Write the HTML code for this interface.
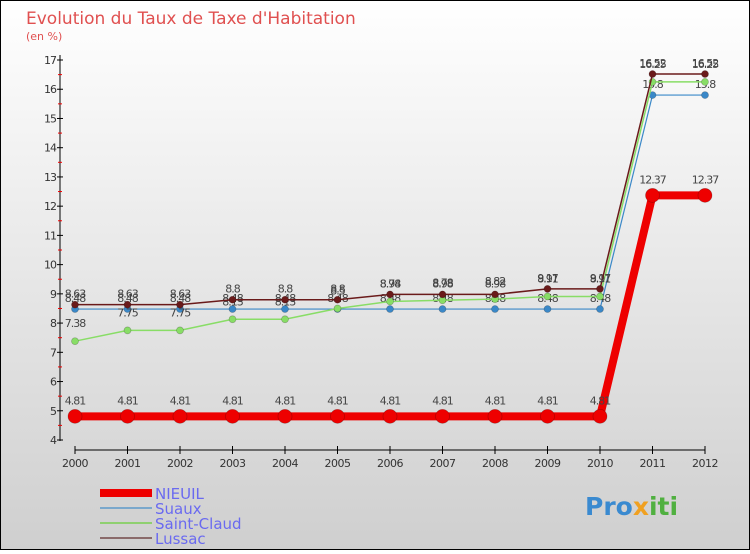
<!DOCTYPE html>
<html><head><meta charset="utf-8"><style>
body{margin:0;width:750px;height:550px;overflow:hidden;font-family:"DejaVu Sans","Liberation Sans",sans-serif}
svg text{font-family:"DejaVu Sans","Liberation Sans",sans-serif}
</style></head><body>
<svg id="c" width="750" height="550">
<defs><linearGradient id="bg" x1="0" y1="0" x2="0" y2="1"><stop offset="0" stop-color="#ffffff"/><stop offset="1" stop-color="#cfcfcf"/></linearGradient></defs>
<rect x="0.5" y="0.5" width="749" height="549" fill="url(#bg)" stroke="#000"/>
<text x="26" y="24" font-size="17" fill="#e05050">Evolution du Taux de Taxe d'Habitation</text>
<text x="26" y="40" font-size="11" fill="#e05050">(en %)</text>
<g id="axes"></g><g id="series"></g>
<g>
<rect x="100" y="489" width="52" height="8" fill="#e00"/><text x="155" y="499" font-size="15" fill="#6a6af0">NIEUIL</text>
<rect x="100" y="507" width="52" height="2" fill="#7aa8cc"/><text x="155" y="514" font-size="15" fill="#6a6af0">Suaux</text>
<rect x="100" y="522" width="52" height="2" fill="#8fd070"/><text x="155" y="529" font-size="15" fill="#6a6af0">Saint-Claud</text>
<rect x="100" y="537" width="52" height="2" fill="#8a6a6a"/><text x="155" y="544" font-size="15" fill="#6a6af0">Lussac</text>
</g>
<text x="585" y="515" font-size="25" font-weight="bold" fill="#3a8ad0">Pro<tspan fill="#f0a020">x</tspan><tspan fill="#50b040">iti</tspan></text>
</svg>
<script>
const years=[2000,2001,2002,2003,2004,2005,2006,2007,2008,2009,2010,2011,2012];
const nieuil=[4.81,4.81,4.81,4.81,4.81,4.81,4.81,4.81,4.81,4.81,4.81,12.37,12.37];
const suaux=[8.48,8.48,8.48,8.48,8.48,8.48,8.48,8.48,8.48,8.48,8.48,15.8,15.8];
const stclaud=[7.38,7.75,7.75,8.13,8.13,8.5,8.74,8.78,8.82,8.91,8.91,16.25,16.25];
const lussac=[8.63,8.63,8.63,8.8,8.8,8.8,8.98,8.98,8.98,9.17,9.17,16.52,16.52];
const yTicks=[4,5,6,7,8,9,10,11,12,13,14,15,16,17];
const NS='http://www.w3.org/2000/svg';
const X=i=>75+i*52.5, Y=v=>440-(v-4)*29.23;
function mk(t,a,p){const e=document.createElementNS(NS,t);for(const k in a)e.setAttribute(k,a[k]);p.appendChild(e);return e;}
const ax=document.getElementById('axes'), se=document.getElementById('series');
let l=mk('line',{x1:60,y1:55,x2:60,y2:441,stroke:'#000'},ax);


l=mk('line',{x1:75,y1:450,x2:705,y2:450,stroke:'#000'},ax);


yTicks.forEach(v=>{
  mk('line',{x1:57,x2:63,y1:Y(v),y2:Y(v),stroke:'#000'},ax);
  if(v<17)mk('line',{x1:58,x2:62,y1:Y(v+0.5),y2:Y(v+0.5),stroke:'#e00'},ax);
  const t=mk('text',{x:56,y:Y(v)+4,'font-size':11,fill:'#333','text-anchor':'end','letter-spacing':'-1'},ax);
  t.textContent=v;
  
  
});
years.forEach((y,i)=>{
  mk('line',{x1:X(i),x2:X(i),y1:446,y2:454,stroke:'#000'},ax);
  const t=mk('text',{x:X(i),y:467,'font-size':11,fill:'#333','text-anchor':'middle','letter-spacing':'-0.5'},ax);
  t.textContent=y;
  
  
});
function series(vals,color,w,r,name,labDy){
  const g=mk('g',{},se);
  
  
  mk('polyline',{points:vals.map((v,i)=>X(i)+','+Y(v)).join(' '),fill:'none',stroke:color,'stroke-width':w,'stroke-linejoin':'round'},g);
  vals.forEach((v,i)=>{
    const c=mk('circle',{cx:X(i),cy:Y(v),r:r,fill:color,stroke:'rgba(0,0,0,0.25)','stroke-width':0.7},g);
    
    
    const t=mk('text',{x:X(i),y:Y(v)+labDy,'font-size':11,fill:'#444','text-anchor':'middle','letter-spacing':'-1'},g);
    t.textContent=v;
    
    
  });
}
series(suaux,'#3a88c8',1.2,3.5,'suaux',-7);
series(stclaud,'#88dd66',1.5,3.5,'saint-claud',-14);
series(lussac,'#6a1a1a',1.5,3.5,'lussac',-7);
series(nieuil,'#ee0000',8,7,'nieuil',-12);
</script>
</body></html>
